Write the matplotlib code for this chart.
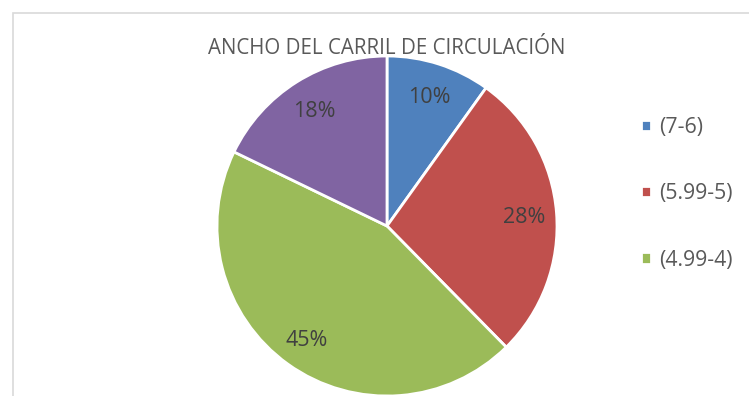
import matplotlib.pyplot as plt
from matplotlib.patches import Rectangle

# Datos del gráfico
categorias = ['(7-6)', '(5.99-5)', '(4.99-4)', '(3.99-3)']
porcentajes = [10, 28, 45, 18]
colores = ['#4F81BD', '#C0504D', '#9BBB59', '#8064A2']
titulo = 'ANCHO DEL CARRIL DE CIRCULACIÓN'

plt.rcParams['font.family'] = ['Open Sans', 'DejaVu Sans']

W, H = 749, 396
fig = plt.figure(figsize=(W / 100, H / 100), dpi=100)

# marco del área del gráfico
fig.patches.append(Rectangle((13 / W, -0.1), 1.0, (H - 13) / H + 0.1,
                             transform=fig.transFigure, fill=False,
                             edgecolor='#D9D9D9', linewidth=1.2))

cx, cy, r = 387, 226, 170
ax = fig.add_axes([(cx - r) / W, (H - cy - r) / H, 2 * r / W, 2 * r / H])
cunas, _, textos = ax.pie(porcentajes, colors=colores, startangle=90,
                          counterclock=False, autopct='%.0f%%',
                          pctdistance=0.81,
                          wedgeprops=dict(edgecolor='white', linewidth=2),
                          textprops=dict(color='#404040', fontsize=15.5,
                                         va='center_baseline'))
ax.set_xlim(-1, 1)
ax.set_ylim(-1, 1)
ax.set_aspect('equal')
ax.axis('off')

fig.text(cx / W, 1 - 48 / H, titulo, ha='center', va='center',
         fontsize=14.8, color='#595959')

fig.legend(cunas[:3], categorias[:3], loc='upper left',
           bbox_to_anchor=(641 / W, 1 - 117 / H), frameon=False,
           borderaxespad=0, borderpad=0,
           handlelength=0.45, handleheight=0.45, handletextpad=0.4,
           labelspacing=2.13, fontsize=15.3, labelcolor='#595959')

fig.savefig('out.png', dpi=100)
